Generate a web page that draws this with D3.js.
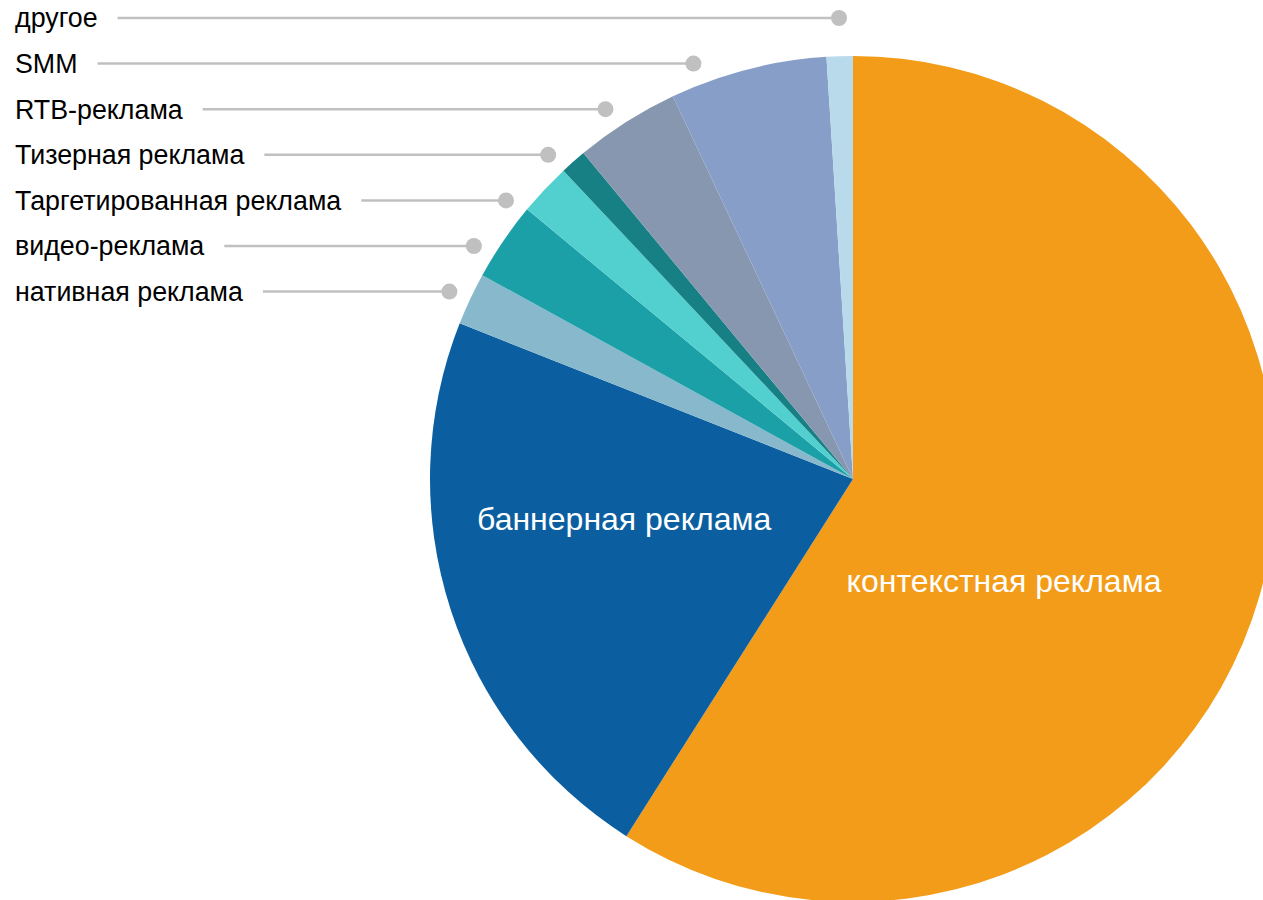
<!doctype html>
<html>
<head>
<meta charset="utf-8">
<style>
    body { margin: 0; background: #fff; }
    svg { display: block; }
    .outer-label { font-family: "Liberation Sans", Arial, sans-serif; font-size: 26.8px; fill: #000; }
    .inner-label { font-family: "Liberation Sans", Arial, sans-serif; font-size: 32px; fill: #fff; }
    .leader { stroke: #c0c0c0; stroke-width: 2.5; }
    .dot { fill: #c0c0c0; }
</style>
<script src="https://d3js.org/d3.v7.min.js"></script>
</head>
<body>
<svg width="1263" height="900"></svg>
<script>
    // доли рекламных каналов, %
    var categories = ["контекстная реклама", "баннерная реклама", "нативная реклама", "видео-реклама",
        "Таргетированная реклама", "Тизерная реклама", "RTB-реклама", "SMM", "другое"];
    var values = [59, 22, 2, 3, 2, 1, 4, 6, 1];
    var colors = ["#f39c19", "#0b5fa0", "#88b8cc", "#1ca0a8", "#52d0d0", "#178085", "#8797b0", "#879fc8", "#b8daeb"];
    // подписи внутри секторов, остальные выносятся влево
    var insideLabels = ["контекстная реклама", "баннерная реклама"];

    var data = categories.map(function(c, i) { return {name: c, value: values[i], color: colors[i]}; });

    var svg = d3.select("svg"),
        cx = 853, cy = 479,
        radius = 423,
        dotRadius = radius + 22;

    var pie = d3.pie().sort(null).value(function(d) { return d.value; });
    var arc = d3.arc().innerRadius(0).outerRadius(radius);
    var arcs = pie(data);

    var g = svg.append("g").attr("transform", "translate(" + cx + "," + cy + ")");

    g.selectAll(".slice")
        .data(arcs)
        .enter().append("path")
        .attr("class", "slice")
        .attr("d", arc)
        .attr("fill", function(d) { return d.data.color; });

    // подписи внутри (смещение относительно центра, в долях радиуса)
    var insideOffset = {"контекстная реклама": [0.357, 0.241], "баннерная реклама": [-0.541, 0.095]};
    g.selectAll(".inner-label")
        .data(arcs.filter(function(d) { return insideLabels.indexOf(d.data.name) >= 0; }))
        .enter().append("text")
        .attr("class", "inner-label")
        .attr("text-anchor", "middle")
        .attr("dy", "0.35em")
        .attr("x", function(d) { return insideOffset[d.data.name][0] * radius; })
        .attr("y", function(d) { return insideOffset[d.data.name][1] * radius; })
        .text(function(d) { return d.data.name; });

    // выносные подписи
    var outer = arcs.filter(function(d) { return insideLabels.indexOf(d.data.name) < 0; })
        .map(function(d) {
            var mid = (d.startAngle + d.endAngle) / 2;
            return {d: d, mid: mid, y: -dotRadius * Math.cos(mid)};
        })
        .sort(function(a, b) { return a.y - b.y; });

    // раздвигаем подписи по вертикали
    var gap = 45.6, minY = 18 - cy;
    for (var it = 0; it < 300; it++) {
        for (var i = 1; i < outer.length; i++) {
            var diff = gap - (outer[i].y - outer[i - 1].y);
            if (diff > 0) {
                outer[i - 1].y -= diff / 2;
                outer[i].y += diff / 2;
            }
        }
        if (outer[0].y < minY) outer[0].y = minY;
    }
    outer.forEach(function(o) {
        if (Math.abs(o.y) < dotRadius) o.x = -Math.sqrt(dotRadius * dotRadius - o.y * o.y);
        else o.x = dotRadius * Math.sin(o.mid);
    });

    var lab = svg.append("g").selectAll(".outer")
        .data(outer)
        .enter().append("g")
        .attr("class", "outer");

    lab.append("text")
        .attr("class", "outer-label")
        .attr("x", 15)
        .attr("y", function(o) { return cy + o.y; })
        .attr("dy", "0.35em")
        .text(function(o) { return o.d.data.name; });

    lab.append("line")
        .attr("class", "leader")
        .attr("x1", function(o) {
            var t = d3.select(this.parentNode).select("text").node();
            return 15 + t.getComputedTextLength() + 20;
        })
        .attr("x2", function(o) { return cx + o.x; })
        .attr("y1", function(o) { return cy + o.y; })
        .attr("y2", function(o) { return cy + o.y; });

    lab.append("circle")
        .attr("class", "dot")
        .attr("cx", function(o) { return cx + o.x; })
        .attr("cy", function(o) { return cy + o.y; })
        .attr("r", 8);
</script>
</body>
</html>
